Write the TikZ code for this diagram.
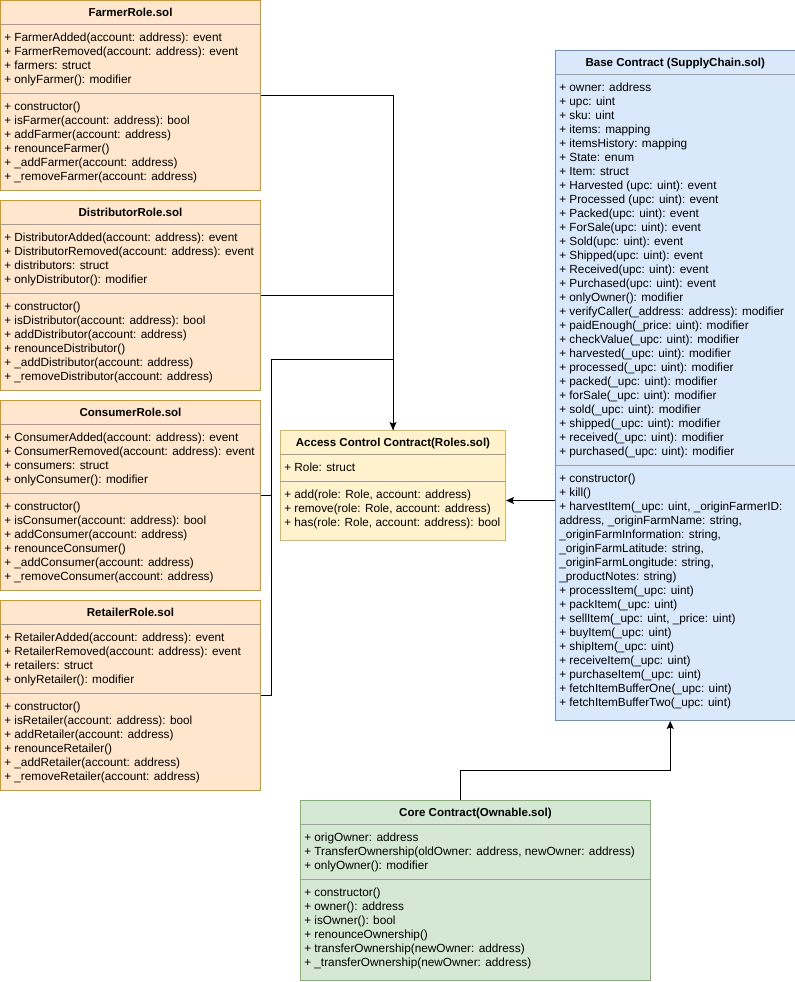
\documentclass[tikz,border=0pt]{standalone}
\usepackage{fontspec}
\setmainfont{Liberation Sans}
\usetikzlibrary{arrows.meta,calc}

\definecolor{rolefill}{HTML}{FFE6CC}
\definecolor{roleedge}{HTML}{D79B00}
\definecolor{accfill}{HTML}{FFF2CC}
\definecolor{accedge}{HTML}{D6B656}
\definecolor{basefill}{HTML}{DAE8FC}
\definecolor{baseedge}{HTML}{6C8EBF}
\definecolor{corefill}{HTML}{D5E8D4}
\definecolor{coreedge}{HTML}{82B366}
\definecolor{divgray}{HTML}{9E9E9E}

\tikzset{
  box/.style={draw, line width=0.75pt, inner sep=0pt, anchor=north west},
  rolebox/.style={box, draw=roleedge, fill=rolefill},
  accbox/.style={box, draw=accedge, fill=accfill},
  basebox/.style={box, draw=baseedge, fill=basefill},
  corebox/.style={box, draw=coreedge, fill=corefill},
  divider/.style={draw=divgray, line width=0.75pt},
  title/.style={font=\bfseries\fontsize{8.65}{10}\selectfont, anchor=base, inner sep=0pt},
  member/.style={font=\fontsize{8.85}{10}\selectfont, anchor=base west, inner sep=0pt},
  link/.style={line width=0.75pt},
  arr/.style={link, -{Stealth[length=6pt,width=5.25pt,inset=1.2pt]}},
}

\begin{document}
\begin{tikzpicture}[x=0.75pt,y=-0.75pt]
  \useasboundingbox (0,0) rectangle (795,982);

  % Farmer role
  \node[rolebox, minimum width=260*0.75pt, minimum height=190*0.75pt] (farmer) at (0,0) {};
  \node[title] (farmer-t) at ([shift={(0,16)}]farmer.north) {FarmerRole.sol};
  \draw[divider] ([shift={(0,24)}]farmer.north west) -- ([shift={(0,24)}]farmer.north east);
  \draw[divider] ([shift={(0,93)}]farmer.north west) -- ([shift={(0,93)}]farmer.north east);
  \foreach \txt [count=\i] in {{+ FarmerAdded(account: address): event},
      {+ FarmerRemoved(account: address): event}, {+ farmers: struct},
      {+ onlyFarmer(): modifier}}
    \node[member] (farmer-a\i) at ([shift={(4,27+14*\i)}]farmer.north west) {\txt};
  \foreach \txt [count=\i] in {{+ constructor()}, {+ isFarmer(account: address): bool},
      {+ addFarmer(account: address)}, {+ renounceFarmer()},
      {+ \_addFarmer(account: address)}, {+ \_removeFarmer(account: address)}}
    \node[member] (farmer-m\i) at ([shift={(4,96+14*\i)}]farmer.north west) {\txt};

  % Distributor role
  \node[rolebox, minimum width=260*0.75pt, minimum height=190*0.75pt] (distributor) at (0,200) {};
  \node[title] (distributor-t) at ([shift={(0,16)}]distributor.north) {DistributorRole.sol};
  \draw[divider] ([shift={(0,24)}]distributor.north west) -- ([shift={(0,24)}]distributor.north east);
  \draw[divider] ([shift={(0,93)}]distributor.north west) -- ([shift={(0,93)}]distributor.north east);
  \foreach \txt [count=\i] in {{+ DistributorAdded(account: address): event},
      {+ DistributorRemoved(account: address): event}, {+ distributors: struct},
      {+ onlyDistributor(): modifier}}
    \node[member] (distributor-a\i) at ([shift={(4,27+14*\i)}]distributor.north west) {\txt};
  \foreach \txt [count=\i] in {{+ constructor()}, {+ isDistributor(account: address): bool},
      {+ addDistributor(account: address)}, {+ renounceDistributor()},
      {+ \_addDistributor(account: address)}, {+ \_removeDistributor(account: address)}}
    \node[member] (distributor-m\i) at ([shift={(4,96+14*\i)}]distributor.north west) {\txt};

  % Consumer role
  \node[rolebox, minimum width=260*0.75pt, minimum height=190*0.75pt] (consumer) at (0,400) {};
  \node[title] (consumer-t) at ([shift={(0,16)}]consumer.north) {ConsumerRole.sol};
  \draw[divider] ([shift={(0,24)}]consumer.north west) -- ([shift={(0,24)}]consumer.north east);
  \draw[divider] ([shift={(0,93)}]consumer.north west) -- ([shift={(0,93)}]consumer.north east);
  \foreach \txt [count=\i] in {{+ ConsumerAdded(account: address): event},
      {+ ConsumerRemoved(account: address): event}, {+ consumers: struct},
      {+ onlyConsumer(): modifier}}
    \node[member] (consumer-a\i) at ([shift={(4,27+14*\i)}]consumer.north west) {\txt};
  \foreach \txt [count=\i] in {{+ constructor()}, {+ isConsumer(account: address): bool},
      {+ addConsumer(account: address)}, {+ renounceConsumer()},
      {+ \_addConsumer(account: address)}, {+ \_removeConsumer(account: address)}}
    \node[member] (consumer-m\i) at ([shift={(4,96+14*\i)}]consumer.north west) {\txt};

  % Retailer role
  \node[rolebox, minimum width=260*0.75pt, minimum height=190*0.75pt] (retailer) at (0,600) {};
  \node[title] (retailer-t) at ([shift={(0,16)}]retailer.north) {RetailerRole.sol};
  \draw[divider] ([shift={(0,24)}]retailer.north west) -- ([shift={(0,24)}]retailer.north east);
  \draw[divider] ([shift={(0,93)}]retailer.north west) -- ([shift={(0,93)}]retailer.north east);
  \foreach \txt [count=\i] in {{+ RetailerAdded(account: address): event},
      {+ RetailerRemoved(account: address): event}, {+ retailers: struct},
      {+ onlyRetailer(): modifier}}
    \node[member] (retailer-a\i) at ([shift={(4,27+14*\i)}]retailer.north west) {\txt};
  \foreach \txt [count=\i] in {{+ constructor()}, {+ isRetailer(account: address): bool},
      {+ addRetailer(account: address)}, {+ renounceRetailer()},
      {+ \_addRetailer(account: address)}, {+ \_removeRetailer(account: address)}}
    \node[member] (retailer-m\i) at ([shift={(4,96+14*\i)}]retailer.north west) {\txt};

  % Access control contract
  \node[accbox, minimum width=225*0.75pt, minimum height=110*0.75pt] (access) at (280,430) {};
  \node[title] (access-t) at ([shift={(0,16)}]access.north) {Access Control Contract(Roles.sol)};
  \draw[divider] ([shift={(0,24)}]access.north west) -- ([shift={(0,24)}]access.north east);
  \draw[divider] ([shift={(0,51)}]access.north west) -- ([shift={(0,51)}]access.north east);
  \node[member] (access-a1) at ([shift={(4,41)}]access.north west) {+ Role: struct};
  \foreach \txt [count=\i] in {{+ add(role: Role, account: address)},
      {+ remove(role: Role, account: address)}, {+ has(role: Role, account: address): bool}}
    \node[member] (access-m\i) at ([shift={(4,54+14*\i)}]access.north west) {\txt};

  % Base contract
  \node[basebox, minimum width=239.5*0.75pt, minimum height=670*0.75pt] (base) at (555,50) {};
  \node[title] (base-t) at ([shift={(0,16)}]base.north) {Base Contract (SupplyChain.sol)};
  \draw[divider] ([shift={(0,24)}]base.north west) -- ([shift={(0,24)}]base.north east);
  \draw[divider] ([shift={(0,415)}]base.north west) -- ([shift={(0,415)}]base.north east);
  \foreach \txt [count=\i] in {{+ owner: address}, {+ upc: uint}, {+ sku: uint},
      {+ items: mapping}, {+ itemsHistory: mapping}, {+ State: enum}, {+ Item: struct},
      {+ Harvested (upc: uint): event}, {+ Processed (upc: uint): event},
      {+ Packed(upc: uint): event}, {+ ForSale(upc: uint): event},
      {+ Sold(upc: uint): event}, {+ Shipped(upc: uint): event},
      {+ Received(upc: uint): event}, {+ Purchased(upc: uint): event},
      {+ onlyOwner(): modifier}, {+ verifyCaller(\_address: address): modifier},
      {+ paidEnough(\_price: uint): modifier}, {+ checkValue(\_upc: uint): modifier},
      {+ harvested(\_upc: uint): modifier}, {+ processed(\_upc: uint): modifier},
      {+ packed(\_upc: uint): modifier}, {+ forSale(\_upc: uint): modifier},
      {+ sold(\_upc: uint): modifier}, {+ shipped(\_upc: uint): modifier},
      {+ received(\_upc: uint): modifier}, {+ purchased(\_upc: uint): modifier}}
    \node[member] (base-a\i) at ([shift={(4,27+14*\i)}]base.north west) {\txt};
  \foreach \txt [count=\i] in {{+ constructor()}, {+ kill()},
      {+ harvestItem(\_upc: uint, \_originFarmerID:}, {address, \_originFarmName: string,},
      {\_originFarmInformation: string,}, {\_originFarmLatitude: string,},
      {\_originFarmLongitude: string,}, {\_productNotes: string)},
      {+ processItem(\_upc: uint)}, {+ packItem(\_upc: uint)},
      {+ sellItem(\_upc: uint, \_price: uint)}, {+ buyItem(\_upc: uint)},
      {+ shipItem(\_upc: uint)}, {+ receiveItem(\_upc: uint)},
      {+ purchaseItem(\_upc: uint)}, {+ fetchItemBufferOne(\_upc: uint)},
      {+ fetchItemBufferTwo(\_upc: uint)}}
    \node[member] (base-m\i) at ([shift={(4,418+14*\i)}]base.north west) {\txt};

  % Core contract
  \node[corebox, minimum width=350*0.75pt, minimum height=180*0.75pt] (core) at (300,800) {};
  \node[title] (core-t) at ([shift={(0,16)}]core.north) {Core Contract(Ownable.sol)};
  \draw[divider] ([shift={(0,24)}]core.north west) -- ([shift={(0,24)}]core.north east);
  \draw[divider] ([shift={(0,79)}]core.north west) -- ([shift={(0,79)}]core.north east);
  \foreach \txt [count=\i] in {{+ origOwner: address},
      {+ TransferOwnership(oldOwner: address, newOwner: address)},
      {+ onlyOwner(): modifier}}
    \node[member] (core-a\i) at ([shift={(4,27+14*\i)}]core.north west) {\txt};
  \foreach \txt [count=\i] in {{+ constructor()}, {+ owner(): address}, {+ isOwner(): bool},
      {+ renounceOwnership()}, {+ transferOwnership(newOwner: address)},
      {+ \_transferOwnership(newOwner: address)}}
    \node[member] (core-m\i) at ([shift={(4,82+14*\i)}]core.north west) {\txt};

  % Connectors
  \draw[arr] (farmer.east) -| (access.north);
  \draw[link] (distributor.east) -| (access.north);
  \draw[link] (consumer.east) -- ++(10,0) |- ([shift={(0,-71)}]access.north);
  \draw[link] (retailer.east) -- ++(10,0) |- ([shift={(0,-71)}]access.north);
  \draw[arr] ([shift={(0,115)}]base.west) -- ([shift={(0,15)}]access.east);
  \draw[arr] ([shift={(-15,0)}]core.north) -- ++(0,-30) -| ([shift={(-5,0)}]base.south);
\end{tikzpicture}
\end{document}
